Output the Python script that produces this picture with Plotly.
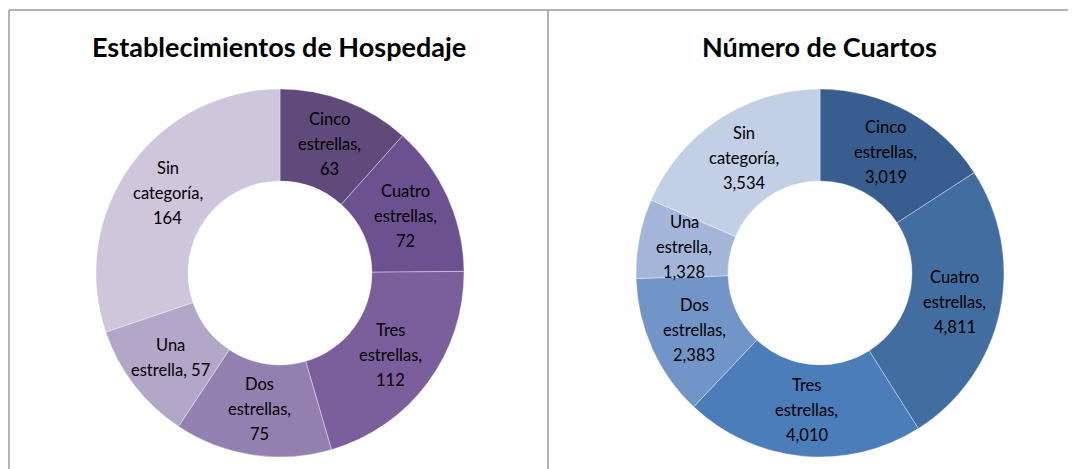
import math
import plotly.graph_objects as go

# ---- data ----
categories = ["Cinco estrellas", "Cuatro estrellas", "Tres estrellas",
              "Dos estrellas", "Una estrella", "Sin categoría"]
establecimientos = [63, 72, 112, 75, 57, 164]
cuartos = [3019, 4811, 4010, 2383, 1328, 3534]
titles = ["Establecimientos de Hospedaje", "Número de Cuartos"]

purple_colors = ["#5F4A7B", "#6B5190", "#7B5E9C", "#9480B0", "#B2A7C8", "#CEC6DA"]
blue_colors = ["#375E8E", "#426DA0", "#4A7DBA", "#7295C8", "#A3B6D9", "#C3CFE5"]

# ---- layout constants (pixels) ----
W, H = 1076, 469
OFF = 8  # page body margin
R = 184
HOLE = 0.5
CY = 273
CXS = [280, 820]
LINE_H = 25
FONT = "Lato"


def px_x(x):
    return (x - OFF) / W


def px_y(y):
    return (H - (y - OFF)) / H


def label_lines(cat, val, inline):
    first, second = cat.split(" ", 1)
    vtxt = f"{val:,}"
    if inline:
        return [first, f"{second}, {vtxt}"]
    return [first, second + ",", vtxt]


fig = go.Figure()
annotations = []

series = [(establecimientos, purple_colors, {"Una estrella"}),
          (cuartos, blue_colors, set())]

for i, (vals, cols, inline_set) in enumerate(series):
    cx = CXS[i]
    fig.add_trace(go.Pie(
        labels=categories, values=vals, sort=False, direction="clockwise",
        rotation=0, hole=HOLE, textinfo="none", hoverinfo="label+value",
        marker=dict(colors=cols, line=dict(color="rgba(255,255,255,0.45)", width=0.8)),
        domain=dict(x=[px_x(cx - R), px_x(cx + R)], y=[px_y(CY + R), px_y(CY - R)]),
        showlegend=False,
    ))
    total = sum(vals)
    cum = 0
    rmid = R * (1 + HOLE) / 2
    for cat, v in zip(categories, vals):
        mid = (cum + v / 2) / total * 2 * math.pi
        cum += v
        lx = cx + rmid * math.sin(mid)
        ly = CY - rmid * math.cos(mid)
        lines = label_lines(cat, v, cat in inline_set)
        n = len(lines)
        for j, t in enumerate(lines):
            annotations.append(dict(
                x=px_x(lx), y=px_y(ly), xref="paper", yref="paper",
                text=t, showarrow=False, xanchor="center", yanchor="middle",
                yshift=((n - 1) / 2 - j) * LINE_H,
                font=dict(family=FONT, size=16.5, color="#000000"),
            ))
    annotations.append(dict(
        x=px_x(cx - 1), y=px_y(47), xref="paper", yref="paper",
        text=f"<b>{titles[i]}</b>", showarrow=False,
        xanchor="center", yanchor="middle",
        font=dict(family=FONT, size=27, color="#000000"),
    ))

border = dict(color="#9a9a9a", width=1.5)
shapes = [
    dict(type="line", xref="paper", yref="paper", x0=px_x(9), x1=1.05,
         y0=px_y(10), y1=px_y(10), line=border),
    dict(type="line", xref="paper", yref="paper", x0=px_x(9), x1=px_x(9),
         y0=px_y(10), y1=-0.05, line=border),
    dict(type="line", xref="paper", yref="paper", x0=px_x(548), x1=px_x(548),
         y0=px_y(10), y1=-0.05, line=border),
]

fig.update_layout(
    width=W, height=H, margin=dict(l=0, r=0, t=0, b=0),
    paper_bgcolor="white", plot_bgcolor="white",
    annotations=annotations, shapes=shapes,
)

fig.write_html("out.html", config={"displayModeBar": False})
